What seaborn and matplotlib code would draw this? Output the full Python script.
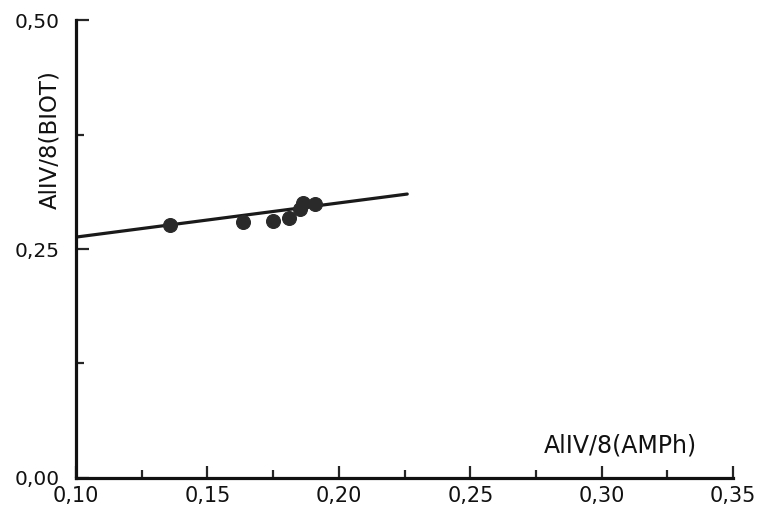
import numpy as np
import pandas as pd
import matplotlib
matplotlib.use("Agg")
import matplotlib.pyplot as plt
import seaborn as sns
from matplotlib.ticker import MultipleLocator, FuncFormatter

# Veriler
amph = [0.1358, 0.1637, 0.1748, 0.1809, 0.1852, 0.1862, 0.1911]
biot = [0.276, 0.279, 0.281, 0.2835, 0.2933, 0.300, 0.2988]
line_x = [0.10, 0.226]
line_y = [0.263, 0.310]

x_ticks = [0.10, 0.15, 0.20, 0.25, 0.30, 0.35]
y_ticks = [0.00, 0.25, 0.50]

df = pd.DataFrame({"AMPh": amph, "BIOT": biot})
df_line = pd.DataFrame({"x": line_x, "y": line_y})

sns.set_style("white")
plt.rcParams['font.family'] = ['DejaVu Sans']

fig = plt.figure(figsize=(7.66, 5.24), dpi=100)
ax = fig.add_axes([0.0992, 0.0878, 0.858, 0.874])

sns.lineplot(data=df_line, x="x", y="y", color="#1a1a1a", linewidth=2.3, ax=ax)
sns.scatterplot(data=df, x="AMPh", y="BIOT", color="#2a2a2a", s=100,
                marker="o", edgecolor="#2a2a2a", ax=ax, zorder=3)

ax.set_xlim(0.10, 0.35)
ax.set_ylim(0.0, 0.50)
ax.set_xticks(x_ticks)
ax.set_yticks(y_ticks)
ax.xaxis.set_minor_locator(MultipleLocator(0.025))
ax.yaxis.set_minor_locator(MultipleLocator(0.125))

comma = FuncFormatter(lambda v, p: f"{v:.2f}".replace(".", ","))
ax.xaxis.set_major_formatter(comma)
ax.yaxis.set_major_formatter(comma)

ax.tick_params(axis="x", which="major", direction="in", length=9, width=1.6,
               labelsize=15, pad=6, labelcolor="#111111")
ax.tick_params(axis="x", which="minor", direction="in", length=6, width=1.6)
ax.tick_params(axis="y", which="major", direction="in", length=9, width=1.6,
               labelsize=14.5, pad=12, labelcolor="#111111")
ax.tick_params(axis="y", which="minor", direction="in", length=6, width=1.6)
ax.tick_params(bottom=True, left=True, which="both")

sns.despine(ax=ax)
for s in ["left", "bottom"]:
    ax.spines[s].set_linewidth(2.3)
    ax.spines[s].set_color("#111111")

ax.set_xlabel("")
ax.set_ylabel("")
ax.text(0.307, 0.036, "AlIV/8(AMPh)", fontsize=17, ha="center", va="center",
        color="#111111")
ax.text(-0.04, 0.74, "AlIV/8(BIOT)", fontsize=16.5, rotation=90,
        ha="center", va="center", color="#111111", transform=ax.transAxes)

fig.savefig("out.png", dpi=100, facecolor="white")
